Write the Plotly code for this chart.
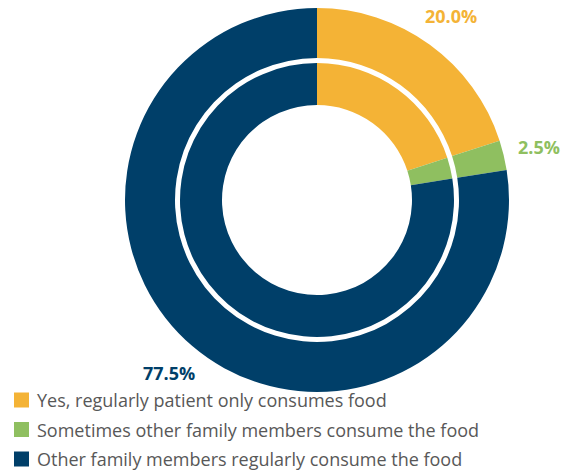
import math
import plotly.graph_objects as go

# Food consumption within the household
labels = [
    "Yes, regularly patient only consumes food",
    "Sometimes other family members consume the food",
    "Other family members regularly consume the food",
]
values = [20.0, 2.5, 77.5]
colors = ["#F4B336", "#8FBF60", "#003F69"]

W, H = 574, 472
cx, cy = 317, 200          # ring centre in pixels (from top-left)
r_outer, r_outer_hole = 192, 142
r_inner, r_inner_hole = 137, 95


def domain(r):
    return dict(
        x=[(cx - r) / W, (cx + r) / W],
        y=[(H - cy - r) / H, (H - cy + r) / H],
    )


common = dict(
    labels=labels,
    values=values,
    sort=False,
    direction="clockwise",
    rotation=0,
    textinfo="none",
    hoverinfo="label+percent",
    showlegend=False,
    marker=dict(colors=colors, line=dict(width=0)),
)

fig = go.Figure()
fig.add_trace(go.Pie(domain=domain(r_outer), hole=r_outer_hole / r_outer, **common))
fig.add_trace(go.Pie(domain=domain(r_inner), hole=r_inner_hole / r_inner, **common))

# Percentage labels outside the outer ring at each slice's mid-angle
total = sum(values)
start = 0.0
r_label = 228
for v, c in zip(values, colors):
    mid = (start + v / 2) / total * 2 * math.pi
    start += v
    px = cx + r_label * math.sin(mid)
    py = cy - r_label * math.cos(mid)
    fig.add_annotation(
        x=px / W, y=1 - py / H, xref="paper", yref="paper",
        xanchor="center", yanchor="middle",
        text=f"<b>{v:.1f}%</b>", showarrow=False,
        font=dict(family="Open Sans", size=18, color=c),
    )

# Legend: coloured squares with labels, stacked at the bottom left
leg_x, leg_y0, leg_dy, sq = 14, 400, 29.5, 15
for i, (lab, c) in enumerate(zip(labels, colors)):
    yc = leg_y0 + i * leg_dy
    fig.add_shape(
        type="rect", xref="paper", yref="paper",
        x0=leg_x / W, x1=(leg_x + sq) / W,
        y0=1 - (yc + sq / 2) / H, y1=1 - (yc - sq / 2) / H,
        fillcolor=c, line=dict(width=0),
    )
    fig.add_annotation(
        x=(leg_x + sq + 6) / W, y=1 - yc / H, xref="paper", yref="paper",
        xanchor="left", yanchor="middle", text=lab, showarrow=False,
        font=dict(family="Open Sans", size=18, color="#585858"),
    )

fig.update_layout(
    width=W, height=H,
    margin=dict(l=0, r=0, t=0, b=0),
    paper_bgcolor="white",
    plot_bgcolor="white",
    showlegend=False,
)

fig.write_html("out.html")
